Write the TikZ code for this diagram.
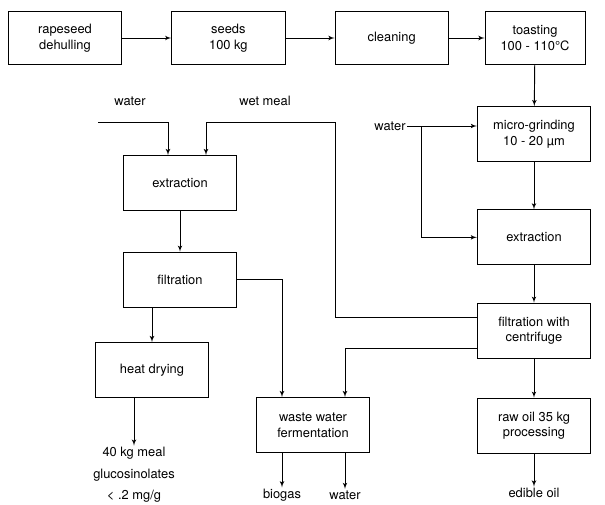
\documentclass[tikz,border=0pt]{standalone}
\usepackage{fontspec}
\setmainfont{TeX Gyre Heros}
\usetikzlibrary{shapes,arrows}

\begin{document}
\begin{tikzpicture}[auto, node distance=2.9cm, >=latex', x=0.03cm, y=-0.03cm,
    font=\fontsize{11}{13.5}\selectfont, line width=0.8pt]
\tikzstyle{block} = [draw, rectangle, align=center,
    minimum height=1.65cm, minimum width=3.4cm]
\tikzstyle{topblock} = [block, minimum height=1.6cm]
\tikzstyle{outtext} = [align=center, inner sep=1pt]
\useasboundingbox (0,0) rectangle (605,505);
    % the preparation steps along the top
    \node [topblock] at (65,38) (dehull) {rapeseed\\dehulling};
    \node [topblock, right of=dehull, node distance=4.9cm] (seeds) {seeds\\100 kg};
    \node [topblock, right of=seeds, node distance=4.9cm] (clean) {cleaning};
    \node [topblock, right of=clean, node distance=4.3cm,
            minimum width=3cm] (toast) {toasting\\100 - 110\textdegree C};

    % oil line on the right
    \node [block] at (534,134) (grind) {micro-grinding\\10 - 20 µm};
    \node [block, below of=grind, node distance=3.1cm] (extrR) {extraction};
    \node [block, below of=extrR, node distance=2.8cm] (filtC) {filtration with\\centrifuge};
    \node [block, below of=filtC, node distance=2.85cm] (rawoil) {raw oil 35 kg\\processing};
    \node [outtext] at (534,493) (edible) {edible oil};

    % meal line on the left
    \node [block] at (180,183) (extrL) {extraction};
    \node [block, below of=extrL] (filtL) {filtration};
    \node [block] at (152,370) (heat) {heat drying};
    \node [outtext] at (134,475) (meal) {40 kg meal\\[5pt]glucosinolates\\[5pt]< .2 mg/g};
    \node [block] at (313,425) (waste) {waste water\\fermentation};
    \node [outtext] at (282,495) (biogas) {biogas};
    \node [outtext] at (345,495) (waterout) {water};

    % inputs
    \node [outtext] at (130,101) (waterL) {water};
    \node [outtext] at (265,101) (wetmeal) {wet meal};
    \node [outtext] at (390,126) (waterR) {water};
    \coordinate (win) at (98,122);
    \coordinate (wmcorner) at (335,122);
    \coordinate (wsplit) at (421,126);

    % connections
    \draw [->] (dehull) -- (seeds);
    \draw [->] (seeds) -- (clean);
    \draw [->] (clean) -- (toast);
    \draw [->] (toast) -- (grind);
    \draw [->] (waterR) -- (waterR -| grind.west);
    \draw [->] (wsplit) |- (extrR);
    \draw [->] (grind) -- (extrR);
    \draw [->] (extrR) -- (filtC);
    \draw [->] (filtC) -- (rawoil);
    \draw [->] (rawoil) -- (edible);
    \draw [->] ([yshift=0.4cm]filtC.west) -| (wmcorner)
        -| ([xshift=0.78cm]extrL.north);
    \draw [->] (win) -| ([xshift=-0.36cm]extrL.north);
    \draw [->] (extrL) -- (filtL);
    \draw [->] (filtL.south -| heat) -- (heat);
    \draw [->] (heat.south -| meal) -- (meal);
    \draw [->] (filtL.east) -| ([xshift=-0.93cm]waste.north);
    \draw [->] ([yshift=-0.54cm]filtC.west) -| ([xshift=0.96cm]waste.north);
    \draw [->] (waste.south -| biogas) -- (biogas);
    \draw [->] (waste.south -| waterout) -- (waterout);
\end{tikzpicture}
\end{document}
